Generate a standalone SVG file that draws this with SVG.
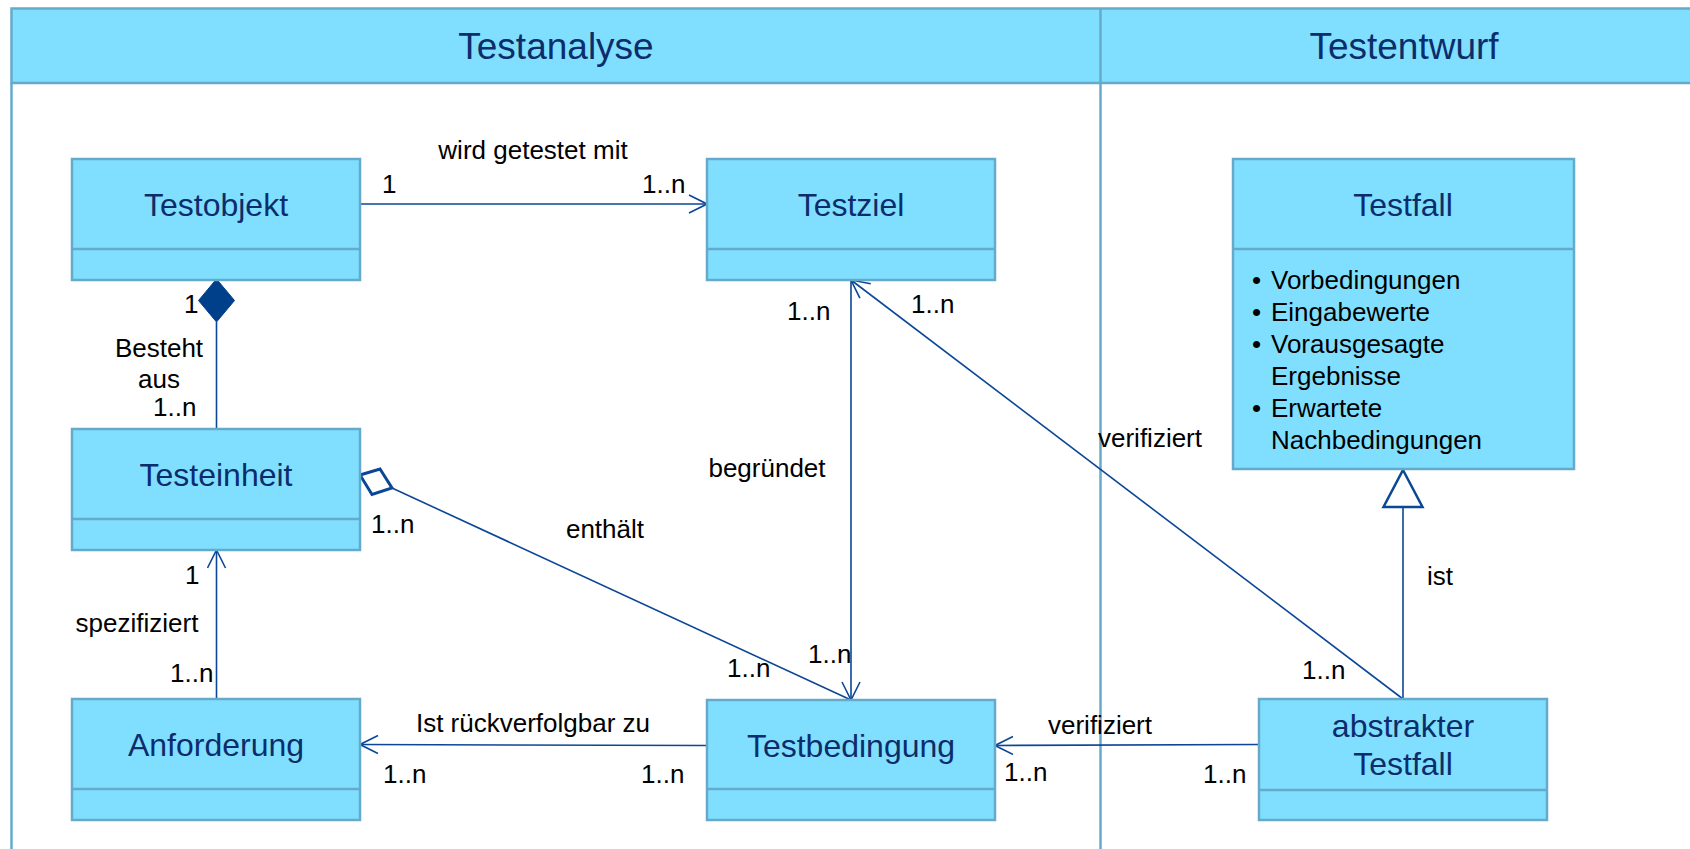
<svg xmlns="http://www.w3.org/2000/svg" width="1690" height="849" viewBox="0 0 1690 849">
<defs>
<style>
.frame{fill:none;stroke:#66aacb;stroke-width:2.5}
.hdr{fill:#80dfff;stroke:#66aacb;stroke-width:2.5}
.box{fill:#80dfff;stroke:#66aacb;stroke-width:2.5}
.div{stroke:#66aacb;stroke-width:2.5}
.htxt{font-family:"Liberation Sans",Arial,sans-serif;font-size:37px;fill:#0c2d6b;text-anchor:middle}
.title{font-family:"Liberation Sans",Arial,sans-serif;font-size:32px;fill:#0c2d6b;text-anchor:middle}
.lbl{font-family:"Liberation Sans",Arial,sans-serif;font-size:26px;fill:#000}
.mid{text-anchor:middle}
.con{stroke:#0b4796;stroke-width:1.6;fill:none}
</style>
<marker id="open" viewBox="0 0 20 20" refX="19" refY="10" markerWidth="20" markerHeight="20" markerUnits="userSpaceOnUse" orient="auto">
<path d="M1,1 L19,10 L1,19" fill="none" stroke="#0b4796" stroke-width="1.6"/>
</marker>
</defs>
<rect width="1690" height="849" fill="#fff"/>
<g id="frame">
<rect class="hdr" x="11.5" y="8.5" width="1700" height="74.5"/>
<line class="div" x1="11.5" y1="83" x2="11.5" y2="860"/>
<line class="div" x1="1100.5" y1="8.5" x2="1100.5" y2="860"/>
<text class="htxt" x="556" y="59">Testanalyse</text>
<text class="htxt" x="1404" y="59">Testentwurf</text>
</g>
<g id="connectors">
<line class="con" x1="360" y1="204" x2="707" y2="204" marker-end="url(#open)"/>
<line class="con" x1="851" y1="280" x2="851" y2="700" marker-end="url(#open)"/>
<line class="con" x1="1403" y1="699" x2="851" y2="280" marker-end="url(#open)"/>
<line class="con" x1="216.5" y1="322" x2="216.5" y2="429"/>
<polygon points="216.5,279 234.5,300.5 216.5,322 198.5,300.5" fill="#00408a" stroke="#00408a" stroke-width="1"/>
<line class="con" x1="392" y1="488" x2="851" y2="700"/>
<polygon points="360,475 380,469 392,488 372,494.5" fill="#fff" stroke="#0b4796" stroke-width="3"/>
<line class="con" x1="216.5" y1="699" x2="216.5" y2="550" marker-end="url(#open)"/>
<line class="con" x1="707" y1="745.5" x2="360" y2="744.5" marker-end="url(#open)"/>
<line class="con" x1="1259" y1="744.5" x2="995" y2="745.5" marker-end="url(#open)"/>
<line class="con" x1="1403" y1="699" x2="1403" y2="507"/>
<polygon points="1403,470 1422.5,507 1383.5,507" fill="#fff" stroke="#0b4796" stroke-width="2.5"/>
<text class="lbl mid" x="533" y="159">wird getestet mit</text>
<text class="lbl" x="382" y="193">1</text>
<text class="lbl" x="642" y="193">1..n</text>
<text class="lbl" x="787" y="320">1..n</text>
<text class="lbl" x="911" y="313">1..n</text>
<text class="lbl mid" x="767" y="477">begründet</text>
<text class="lbl" x="808" y="663">1..n</text>
<text class="lbl" x="727" y="677">1..n</text>
<text class="lbl mid" x="1150" y="447">verifiziert</text>
<text class="lbl" x="1302" y="679">1..n</text>
<text class="lbl mid" x="1440" y="585">ist</text>
<text class="lbl" x="184" y="313">1</text>
<text class="lbl mid" x="159" y="357">Besteht</text>
<text class="lbl mid" x="159" y="388">aus</text>
<text class="lbl" x="153" y="416">1..n</text>
<text class="lbl" x="371" y="533">1..n</text>
<text class="lbl mid" x="605" y="538">enthält</text>
<text class="lbl" x="185" y="584">1</text>
<text class="lbl mid" x="137" y="632">spezifiziert</text>
<text class="lbl" x="170" y="682">1..n</text>
<text class="lbl mid" x="533" y="732">Ist rückverfolgbar zu</text>
<text class="lbl" x="383" y="783">1..n</text>
<text class="lbl" x="641" y="783">1..n</text>
<text class="lbl mid" x="1100" y="734">verifiziert</text>
<text class="lbl" x="1004" y="781">1..n</text>
<text class="lbl" x="1203" y="783">1..n</text>
</g>
<g id="testobjekt">
<rect class="box" x="72" y="159" width="288" height="121"/>
<line class="div" x1="72" y1="249" x2="360" y2="249"/>
<text class="title" x="216" y="216">Testobjekt</text>
</g>
<g id="testziel">
<rect class="box" x="707" y="159" width="288" height="121"/>
<line class="div" x1="707" y1="249" x2="995" y2="249"/>
<text class="title" x="851" y="216">Testziel</text>
</g>
<g id="testfall">
<rect class="box" x="1233" y="159" width="341" height="310"/>
<line class="div" x1="1233" y1="249" x2="1574" y2="249"/>
<text class="title" x="1403" y="216">Testfall</text>
<g class="lbl">
<text x="1252" y="289">•</text><text x="1271" y="289">Vorbedingungen</text>
<text x="1252" y="321">•</text><text x="1271" y="321">Eingabewerte</text>
<text x="1252" y="353">•</text><text x="1271" y="353">Vorausgesagte</text>
<text x="1271" y="385">Ergebnisse</text>
<text x="1252" y="417">•</text><text x="1271" y="417">Erwartete</text>
<text x="1271" y="449">Nachbedingungen</text>
</g>
</g>
<g id="testeinheit">
<rect class="box" x="72" y="429" width="288" height="121"/>
<line class="div" x1="72" y1="519" x2="360" y2="519"/>
<text class="title" x="216" y="486">Testeinheit</text>
</g>
<g id="anforderung">
<rect class="box" x="72" y="699" width="288" height="121"/>
<line class="div" x1="72" y1="789" x2="360" y2="789"/>
<text class="title" x="216" y="756">Anforderung</text>
</g>
<g id="testbedingung">
<rect class="box" x="707" y="700" width="288" height="120"/>
<line class="div" x1="707" y1="789" x2="995" y2="789"/>
<text class="title" x="851" y="757">Testbedingung</text>
</g>
<g id="abstrakter-testfall">
<rect class="box" x="1259" y="699" width="288" height="121"/>
<line class="div" x1="1259" y1="790" x2="1547" y2="790"/>
<text class="title" x="1403" y="737">abstrakter</text>
<text class="title" x="1403" y="775">Testfall</text>
</g>
</svg>
